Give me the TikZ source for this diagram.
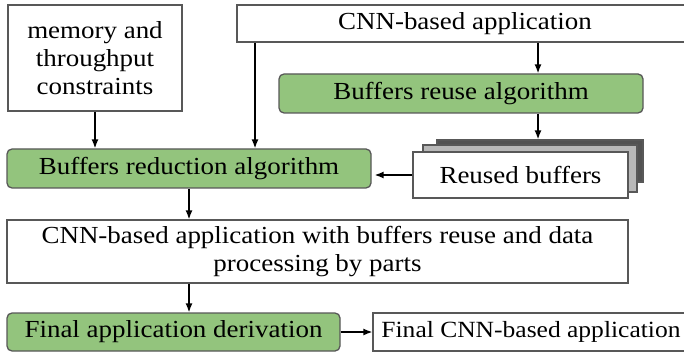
\documentclass[tikz,border=0pt]{standalone}
\usepackage{fontspec}
\setmainfont{Liberation Serif}[FakeStretch=1.1]
\usetikzlibrary{arrows.meta,calc}
\definecolor{algogreen}{RGB}{147,196,125}
\definecolor{boxedge}{RGB}{88,88,88}

\begin{document}
\begin{tikzpicture}[x=1pt,y=-1pt,font=\fontsize{24.5}{28}\selectfont,
  box/.style={draw=boxedge,line width=1.3pt,fill=white,inner sep=0pt,align=center},
  algo/.style={box,fill=algogreen,rounded corners=5pt},
  flow/.style={line width=1.4pt,-{Latex[length=9pt,width=7pt]}}]
% 684 x 352 px, one pt per px, y running down from the top edge
\useasboundingbox (0,0) rectangle (684,352);

% inputs
\node[box,minimum width=174,minimum height=106] (mem) at (95,58)
  {memory and\\throughput\\constraints};
\node[box,minimum width=456,minimum height=37] (cnn) at (465,23.5)
  {CNN-based application};

% the reuse branch, with its stack of buffers
\node[algo,minimum width=364,minimum height=39] (reuse) at (461,93.5)
  {Buffers reuse algorithm};
\node[box,fill=black!68,minimum width=206,minimum height=42] (stackc) at (540,161) {};
\node[box,fill=black!28,minimum width=214,minimum height=47] (stackb) at (530,168.5) {};
\node[box,minimum width=215,minimum height=46] (reused) at (520.5,175)
  {Reused buffers};

% the main line
\node[algo,minimum width=364,minimum height=39] (red) at (189,168.5)
  {Buffers reduction algorithm};
\node[box,minimum width=621,minimum height=63] (full) at (317.5,251.5)
  {CNN-based application with buffers reuse and data\\processing by parts};
\node[algo,minimum width=333,minimum height=38] (deriv) at (173.5,332)
  {Final application derivation};
% runs off the right edge, as in the source
\node[box,minimum width=316,minimum height=38,font=\fontsize{23.2}{28}\selectfont]
  (final) at (531,332) {Final CNN-based application};

\coordinate (colA) at (255,0);
\coordinate (colB) at (538,0);

\draw[flow] (mem.south) -- (mem.south |- red.north);
\draw[flow] (cnn.south -| colA) -- (red.north -| colA);
\draw[flow] (cnn.south -| colB) -- (reuse.north -| colB);
\draw[flow] (reuse.south -| colB) -- (stackc.north -| colB);
\draw[flow,shorten >=3pt] (reused.west) -- (reused.west -| red.east);
\draw[flow] (red.south) -- (full.north -| red.south);
\draw[flow] (full.south -| red.south) -- (deriv.north -| red.south);
\draw[flow] (deriv.east) -- (final.west);
\end{tikzpicture}
\end{document}
